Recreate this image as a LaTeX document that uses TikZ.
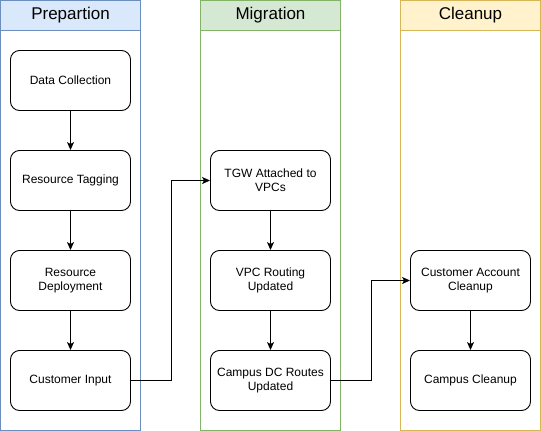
\documentclass[tikz,border=0pt]{standalone}
\usepackage{fontspec}
\setmainfont{Liberation Sans}
\usetikzlibrary{arrows.meta}
\definecolor{prepfill}{HTML}{DAE8FC}
\definecolor{prepline}{HTML}{6C8EBF}
\definecolor{migfill}{HTML}{D5E8D4}
\definecolor{migline}{HTML}{82B366}
\definecolor{cleanfill}{HTML}{FFF2CC}
\definecolor{cleanline}{HTML}{D6B656}

\begin{document}
\begin{tikzpicture}[x=1pt, y=-1pt,
    box/.style={draw, rounded corners=9pt, minimum width=120pt, minimum height=60pt, align=center, font=\fontsize{12}{14}\selectfont, line width=0.9pt},
    lanehead/.style={draw, minimum width=140pt, minimum height=30pt, inner sep=0pt, font=\fontsize{17}{20}\selectfont, line width=0.9pt},
    flow/.style={-{Stealth[length=8pt,width=7pt,inset=2pt]}, line width=0.9pt}]
      \useasboundingbox (0,0) rectangle (541,431);

      % Lanes
      \draw[prepline, line width=0.9pt] (0.5,30.5) rectangle (140.5,430.5);
      \draw[migline, line width=0.9pt] (200.5,30.5) rectangle (340.5,430.5);
      \draw[cleanline, line width=0.9pt] (400.5,30.5) rectangle (540.5,430.5);
      \node[lanehead, draw=prepline, fill=prepfill] (prep) at (70.5,15.5) {Prepartion};
      \node[lanehead, draw=migline, fill=migfill] (mig) at (270.5,15.5) {Migration};
      \node[lanehead, draw=cleanline, fill=cleanfill] (clean) at (470.5,15.5) {Cleanup};

      % Nodes
      \node[box] (dc) at (70.5,80.5) {Data Collection};
      \node[box] (rt) at (70.5,180.5) {Resource Tagging};
      \node[box] (rd) at (70.5,280.5) {Resource\\Deployment};
      \node[box] (ci) at (70.5,380.5) {Customer Input};

      \node[box] (tgw) at (270.5,180.5) {TGW Attached to\\VPCs};
      \node[box] (vpc) at (270.5,280.5) {VPC Routing\\Updated};
      \node[box] (cdc) at (270.5,380.5) {Campus DC Routes\\Updated};

      \node[box] (cac) at (470.5,280.5) {Customer Account\\Cleanup};
      \node[box] (cc) at (470.5,380.5) {Campus Cleanup};

      % Draw arrows inside each lane
      \foreach \u/\v in {dc/rt, rt/rd, rd/ci, tgw/vpc, vpc/cdc, cac/cc}
        \draw[flow] (\u) -- (\v);

      % Arrows between lanes
      \draw[flow] (ci.east) -- ++(40,0) |- (tgw.west);
      \draw[flow] (cdc.east) -- ++(40,0) |- (cac.west);

    \end{tikzpicture}
\end{document}
